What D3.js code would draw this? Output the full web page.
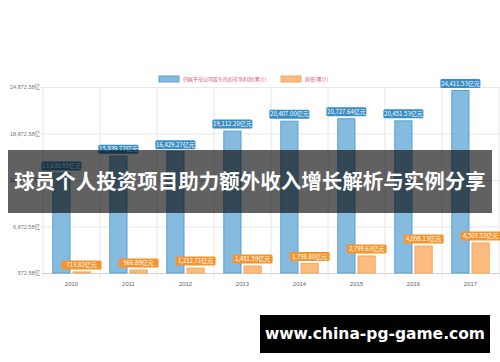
<!DOCTYPE html>
<html>
<head>
<meta charset="utf-8">
<script src="https://cdn.jsdelivr.net/npm/d3@7"></script>
<style>
  body { margin: 0; background: #fff; }
  svg { display: block; font-family: "Noto Sans CJK SC", "Noto Sans", sans-serif; }
</style>
</head>
<body>
<svg width="500" height="362"></svg>
<script>
const years = ['2010', '2011', '2012', '2013', '2014', '2015', '2016', '2017'];
const seriesNames = ['归属于母公司股东的扣非净利润(累计)', '商誉(累计)'];
const netProfit = [13630.95, 15839.77, 16429.27, 19112.20, 20407.00, 20727.64, 20451.53, 24411.53];
const goodwill = [713.82, 966.89, 1212.71, 1481.59, 1798.80, 2799.63, 4098.13, 4503.52];
const yTickLabels = ['572.58亿', '6,672.58亿', '12,672.58亿', '18,872.58亿', '24,872.58亿'];
const bannerText = '球员个人投资项目助力额外收入增长解析与实例分享';
const siteText = 'www.china-pg-game.com';

const svg = d3.select('svg');
const width = +svg.attr('width');
const height = +svg.attr('height');

const margin = { top: 87, right: 1, bottom: 89, left: 43 };
const innerWidth = width - margin.left - margin.right;
const innerHeight = height - margin.top - margin.bottom;

const colors = {
  fill: ['#86bbe0', '#fdbb7e'],
  stroke: ['#5a9fd2', '#f9a65c'],
  label: ['#3a8dc5', '#f5952f']
};

const yMin = 572.58, yMax = 24872.58;

const x0 = d3.scaleBand().domain(years).range([0, innerWidth]);
const x1 = d3.scaleBand().domain([0, 1]).range([0, x0.bandwidth()])
  .paddingInner(0.1).paddingOuter(0.46);
const yScale = d3.scaleLinear().domain([yMin, yMax]).range([innerHeight, 0]);
const yTicks = d3.range(5).map(i => yMin + i * (yMax - yMin) / 4);

const g = svg.append('g')
  .attr('transform', `translate(${margin.left},${margin.top})`);

// horizontal grid + y labels
const yAxis = d3.axisLeft(yScale)
  .tickValues(yTicks)
  .tickSize(-innerWidth - 2)
  .tickPadding(1)
  .tickFormat((d, i) => yTickLabels[i]);

const yAxisG = g.append('g')
  .attr('transform', 'translate(-2,0)')
  .call(yAxis);
yAxisG.select('.domain').remove();
yAxisG.selectAll('line').attr('stroke', '#e8e8e8');
yAxisG.selectAll('text')
  .attr('fill', '#777')
  .style('font-family', '"Liberation Sans", "Noto Sans CJK SC", sans-serif')
  .style('font-size', '5.5px');

// vertical grid lines at band edges
g.append('g').selectAll('line')
  .data(years.concat(['end']))
  .join('line')
    .attr('x1', (d, i) => i * x0.step())
    .attr('x2', (d, i) => i * x0.step())
    .attr('y1', 0)
    .attr('y2', innerHeight + 5)
    .attr('stroke', '#e6e6e6');

// x axis
const xAxis = d3.axisBottom(x0).tickSize(0).tickPadding(9);
const xAxisG = g.append('g')
  .attr('transform', `translate(0,${innerHeight})`)
  .call(xAxis);
xAxisG.select('.domain').attr('stroke', '#cfcfcf');
xAxisG.selectAll('text').attr('fill', '#666').style('font-size', '6px');

const seriesData = [netProfit, goodwill];
const fmt = d3.format(',.2f');

const bars = [];
seriesData.forEach((vals, s) => {
  vals.forEach((v, i) => bars.push({ year: years[i], s, v }));
});

g.append('g').selectAll('rect')
  .data(bars)
  .join('rect')
    .attr('x', d => x0(d.year) + x1(d.s) + 0.5)
    .attr('y', d => yScale(d.v))
    .attr('width', x1.bandwidth() - 1)
    .attr('height', d => innerHeight - yScale(d.v))
    .attr('fill', d => colors.fill[d.s])
    .attr('stroke', d => colors.stroke[d.s])
    .attr('stroke-width', 1);

// value labels
const labelG = g.append('g').selectAll('g')
  .data(bars)
  .join('g')
    .attr('transform', d =>
      `translate(${x0(d.year) + x1(d.s) + x1.bandwidth() / 2},${yScale(d.v) - 7})`);

labelG.append('rect')
  .attr('x', -20)
  .attr('y', -4.5)
  .attr('width', 40)
  .attr('height', 9)
  .attr('rx', 1.5)
  .attr('fill', d => colors.label[d.s]);

labelG.append('text')
  .attr('text-anchor', 'middle')
  .attr('dy', '0.35em')
  .attr('fill', '#fff')
  .style('font-size', '6px')
  .text(d => fmt(d.v) + '亿元');

// legend
const legend = svg.append('g').attr('transform', 'translate(159,76)');
const legendX = [0, 122];
seriesNames.forEach((name, s) => {
  const lg = legend.append('g').attr('transform', `translate(${legendX[s]},0)`);
  lg.append('rect')
    .attr('width', 20).attr('height', 6)
    .attr('fill', colors.fill[s]).attr('stroke', colors.stroke[s]);
  lg.append('text')
    .attr('x', 24).attr('y', 3).attr('dy', '0.35em')
    .attr('fill', '#e0517f')
    .style('font-size', '5px')
    .text(name);
});

// banner overlay
svg.append('rect')
  .attr('x', 8).attr('y', 150)
  .attr('width', 484).attr('height', 63)
  .attr('fill', 'rgba(0,0,0,0.62)');
svg.append('text')
  .attr('x', 250).attr('y', 182)
  .attr('text-anchor', 'middle')
  .attr('dy', '0.35em')
  .attr('fill', '#fff')
  .style('font-size', '20.5px')
  .style('font-weight', 'bold')
  .text(bannerText);

// site stamp
svg.append('rect')
  .attr('x', 260).attr('y', 315)
  .attr('width', 230).attr('height', 38)
  .attr('fill', '#000');
svg.append('text')
  .attr('x', 375).attr('y', 334)
  .attr('text-anchor', 'middle')
  .attr('dy', '0.35em')
  .attr('fill', '#fff')
  .style('font-family', '"DejaVu Sans", sans-serif')
  .style('font-size', '15.5px')
  .style('font-weight', 'bold')
  .text(siteText);
</script>
</body>
</html>
